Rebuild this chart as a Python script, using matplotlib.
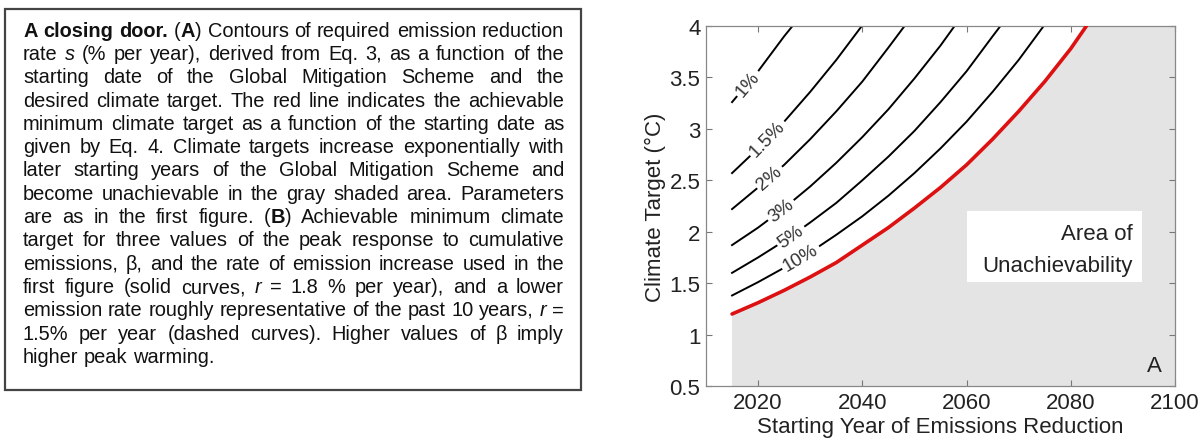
import numpy as np
import matplotlib
matplotlib.use("Agg")
import matplotlib.pyplot as plt
from matplotlib.patches import Rectangle

plt.rcParams['font.family'] = ['Liberation Sans', 'DejaVu Sans']

# ---- data ----
red_x = [2015, 2020, 2025, 2030, 2035, 2040, 2045, 2050, 2055, 2060, 2065, 2070, 2075, 2080, 2083]
red_y = [1.20, 1.31, 1.43, 1.56, 1.70, 1.87, 2.04, 2.23, 2.43, 2.65, 2.90, 3.17, 3.46, 3.78, 4.0]

c1_x = [2015, 2020, 2025, 2026.6]
c1_y = [3.26, 3.56, 3.90, 4.0]
c15_x = [2015, 2020, 2025, 2030, 2035, 2039.9]
c15_y = [2.57, 2.81, 3.07, 3.36, 3.67, 4.0]
c2_x = [2015, 2020, 2025, 2030, 2035, 2040, 2045, 2048.1]
c2_y = [2.22, 2.43, 2.65, 2.90, 3.17, 3.46, 3.79, 4.0]
c3_x = [2015, 2020, 2025, 2030, 2035, 2040, 2045, 2050, 2055, 2057.7]
c3_y = [1.87, 2.04, 2.23, 2.44, 2.67, 2.92, 3.19, 3.49, 3.81, 4.0]
c5_x = [2015, 2020, 2025, 2030, 2035, 2040, 2045, 2050, 2055, 2060, 2065, 2066.5]
c5_y = [1.60, 1.75, 1.91, 2.09, 2.28, 2.50, 2.73, 2.98, 3.26, 3.56, 3.90, 4.0]
c10_x = [2015, 2020, 2025, 2030, 2035, 2040, 2045, 2050, 2055, 2060, 2065, 2070, 2074.8]
c10_y = [1.38, 1.51, 1.65, 1.80, 1.97, 2.15, 2.35, 2.57, 2.81, 3.07, 3.36, 3.67, 4.0]

contour_labels = ['1%', '1.5%', '2%', '3%', '5%', '10%']
label_years = [2018.0, 2021.8, 2022.2, 2024.4, 2026.3, 2028.2]

x_ticks = [2020, 2040, 2060, 2080, 2100]
y_ticks = [0.5, 1, 1.5, 2, 2.5, 3, 3.5, 4]
y_ticklabels = ['0.5', '1', '1.5', '2', '2.5', '3', '3.5', '4']

# caption, * = bold, _ = italic
caption_lines = [
    "*A closing door.* (*A*) Contours of required emission reduction",
    "rate _s_ (% per year), derived from Eq. 3, as a function of the",
    "starting date of the Global Mitigation Scheme and the",
    "desired climate target. The red line indicates the achievable",
    "minimum climate target as a function of the starting date as",
    "given by Eq. 4. Climate targets increase exponentially with",
    "later starting years of the Global Mitigation Scheme and",
    "become unachievable in the gray shaded area. Parameters",
    "are as in the first figure. (*B*) Achievable minimum climate",
    "target for three values of the peak response to cumulative",
    "emissions, β, and the rate of emission increase used in the",
    "first figure (solid curves, _r_ = 1.8 % per year), and a lower",
    "emission rate roughly representative of the past 10 years, _r_ =",
    "1.5% per year (dashed curves). Higher values of β imply",
    "higher peak warming.",
]

W, H = 1204, 439
fig = plt.figure(figsize=(W / 100, H / 100), dpi=100)

# ---- caption box ----
fig.patches.append(Rectangle((5 / W, 1 - 391 / H), 576 / W, 381 / H, transform=fig.transFigure,
                             fill=False, edgecolor='#444444', linewidth=1.6))


def parse_words(line):
    words, cur, buf = [], [], ""
    bold = ital = False
    for ch in line:
        if ch in "*_":
            if buf:
                cur.append((buf, bold, ital))
                buf = ""
            if ch == "*":
                bold = not bold
            else:
                ital = not ital
        elif ch == " ":
            if buf:
                cur.append((buf, bold, ital))
                buf = ""
            if cur:
                words.append(cur)
                cur = []
        else:
            buf += ch
    if buf:
        cur.append((buf, bold, ital))
    if cur:
        words.append(cur)
    return words


renderer = fig.canvas.get_renderer()
x0, x1 = 23, 564
base0, step = 36.7, 23.3
for i, line in enumerate(caption_lines):
    y = 1 - (base0 + i * step) / H
    items = []
    for w in parse_words(line):
        parts = []
        for s, b, it in w:
            t = fig.text(0, y, s, fontsize=14.4, color='#111111', va='baseline',
                         fontweight='bold' if b else 'normal',
                         fontstyle='italic' if it else 'normal')
            parts.append((t, t.get_window_extent(renderer).width))
        items.append(parts)
    widths = [sum(p[1] for p in parts) for parts in items]
    if i < len(caption_lines) - 1:
        gap = (x1 - x0 - sum(widths)) / (len(items) - 1)
    else:
        gap = 5.6
    x = x0
    for parts in items:
        for t, w in parts:
            t.set_x(x / W)
            x += w
        x += gap

# ---- panel A ----
ax = fig.add_axes([706 / W, 52 / H, 469 / W, 360 / H])
ax.set_xlim(2010, 2100)
ax.set_ylim(0.5, 4)

ax.fill([2015] + red_x + [2100, 2100], [0.5] + red_y + [4, 0.5],
        color='#e4e4e4', linewidth=0, zorder=1)

contours = [(c1_x, c1_y), (c15_x, c15_y), (c2_x, c2_y), (c3_x, c3_y), (c5_x, c5_y), (c10_x, c10_y)]
for cx, cy in contours:
    ax.plot(cx, cy, color='black', linewidth=1.4, zorder=2)
ax.plot(red_x, red_y, color='#dd1111', linewidth=2.6, zorder=3, solid_capstyle='round')

for (cx, cy), lab, ly in zip(contours, contour_labels, label_years):
    yv = np.interp(ly, cx, cy)
    p1 = ax.transData.transform((ly - 1, np.interp(ly - 1, cx, cy)))
    p2 = ax.transData.transform((ly + 1, np.interp(ly + 1, cx, cy)))
    ang = np.degrees(np.arctan2(p2[1] - p1[1], p2[0] - p1[0]))
    ax.text(ly, yv, lab, rotation=ang, rotation_mode='anchor', ha='center', va='center',
            fontsize=13.5, color='#333333', zorder=4,
            bbox=dict(facecolor='white', edgecolor='none', pad=2))

ax.add_patch(Rectangle((2060, 1.51), 33.7, 0.69, facecolor='white', edgecolor='none', zorder=5))
ax.text(2091.9, 1.93, 'Area of', ha='right', va='baseline', fontsize=16, color='#222222', zorder=6)
ax.text(2091.9, 1.62, 'Unachievability', ha='right', va='baseline', fontsize=16, color='#222222', zorder=6)
ax.text(0.957, 0.056, 'A', transform=ax.transAxes, ha='center', va='center', fontsize=16, color='#222222')

ax.set_xticks(x_ticks)
ax.set_yticks(y_ticks)
ax.set_yticklabels(y_ticklabels)
ax.tick_params(direction='in', length=4, width=0.8, color='#777777', labelcolor='#222222',
               labelsize=16, top=True, right=True)
ax.tick_params(axis='x', pad=4)
ax.tick_params(axis='y', pad=4)
for sp in ax.spines.values():
    sp.set_color('#888888')
    sp.set_linewidth(0.9)

ax.set_xlabel('Starting Year of Emissions Reduction', fontsize=16, color='#222222')
ax.set_ylabel('Climate Target (°C)', fontsize=16, color='#222222')
ax.xaxis.set_label_coords(0.5, -0.083)
ax.yaxis.set_label_coords(-0.085, 0.5)

fig.savefig('out.png', dpi=100)
